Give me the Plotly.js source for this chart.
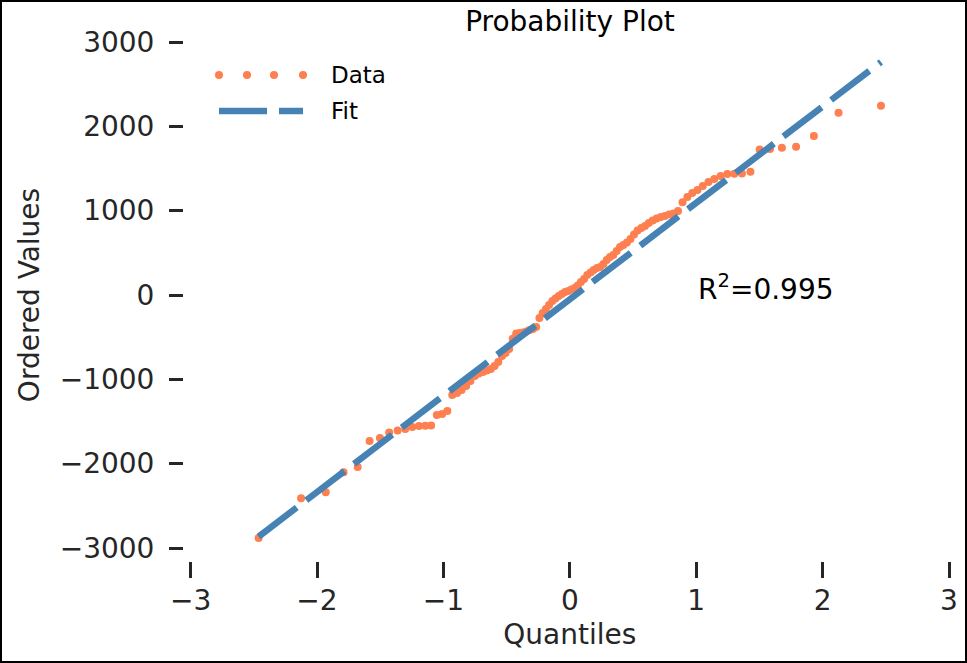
<!DOCTYPE html>
<html>
<head>
<meta charset="utf-8">
<script src="https://cdn.plot.ly/plotly-3.0.1.min.js"></script>
<style>
  html, body { margin: 0; padding: 0; background: #fff; }
  #chart { position: absolute; left: 0; top: 0; width: 967px; height: 663px; }
  #frame { position: absolute; left: 0; top: 0; width: 967px; height: 663px;
           box-sizing: border-box; border: 2px solid #000; pointer-events: none; }
</style>
</head>
<body>
<div id="chart"></div>
<div id="frame"></div>
<script>
// Theoretical quantiles (x) for the 100 ordered samples
const quantiles = [
  -2.462, -2.126, -1.931, -1.790, -1.678, -1.584, -1.502, -1.429, -1.362, -1.302,
  -1.246, -1.193, -1.143, -1.097, -1.052, -1.010, -0.969, -0.930, -0.892, -0.856,
  -0.820, -0.786, -0.752, -0.720, -0.687, -0.656, -0.625, -0.595, -0.566, -0.536,
  -0.508, -0.480, -0.452, -0.424, -0.397, -0.371, -0.344, -0.318, -0.292, -0.266,
  -0.240, -0.215, -0.189, -0.164, -0.138, -0.113, -0.088, -0.063, -0.038, -0.012,
  0.012, 0.038, 0.063, 0.088, 0.113, 0.138, 0.164, 0.189, 0.215, 0.240,
  0.266, 0.292, 0.318, 0.344, 0.371, 0.397, 0.424, 0.452, 0.480, 0.508,
  0.536, 0.566, 0.595, 0.625, 0.656, 0.687, 0.720, 0.752, 0.786, 0.820,
  0.856, 0.892, 0.930, 0.969, 1.010, 1.052, 1.097, 1.143, 1.193, 1.246,
  1.302, 1.362, 1.429, 1.502, 1.584, 1.678, 1.790, 1.931, 2.126, 2.462
];

// Ordered sample values (y)
const orderedValues = [
  -2880, -2411, -2340, -2102, -2040, -1731, -1696, -1630, -1607, -1589,
  -1565, -1553, -1550, -1547, -1423, -1411, -1375, -1186, -1162, -1127,
  -1079, -1020, -960, -931, -913, -895, -877, -842, -794, -723,
  -688, -640, -520, -457, -451, -445, -433, -415, -403, -379,
  -273, -213, -166, -119, -71, -42, -12, 12, 36, 47,
  65, 83, 113, 154, 190, 237, 267, 296, 320, 332,
  368, 415, 451, 474, 522, 569, 593, 623, 664, 717,
  765, 794, 818, 854, 883, 907, 925, 937, 955, 966,
  996, 1100, 1162, 1210, 1245, 1293, 1340, 1376, 1411, 1435,
  1438, 1441, 1462, 1725, 1730, 1745, 1758, 1885, 2162, 2245
];

// Least-squares fit shown in the chart
const fitSlope = 1143;
const fitIntercept = -51;
const rSquared = 0.995;

const xTickVals = [-3, -2, -1, 0, 1, 2, 3];
const xTickText = ['\u22123', '\u22122', '\u22121', '0', '1', '2', '3'];
const yTickVals = [-3000, -2000, -1000, 0, 1000, 2000, 3000];
const yTickText = ['\u22123000', '\u22122000', '\u22121000', '0', '1000', '2000', '3000'];

const dataColor = '#fe7f4f';
const fitColor = '#4682b4';
const textGrey = '#262626';
const font = 'DejaVu Sans, Liberation Sans, sans-serif';

// plot area in pixels (the axes are drawn slightly offset from the data area)
const margin = { l: 183, r: 18, t: 42, b: 102 };
const plotW = 967 - margin.l - margin.r;
const plotH = 663 - margin.t - margin.b;
const px = (x) => (x - margin.l) / plotW;
const py = (y) => (663 - margin.b - y) / plotH;

const fitX = [quantiles[0], quantiles[quantiles.length - 1]];
const fitY = fitX.map(x => fitSlope * x + fitIntercept);

const traces = [
    {
        type: 'scatter',
        mode: 'markers',
        x: quantiles,
        y: orderedValues,
        marker: { size: 8, color: dataColor },
        name: 'Data',
        cliponaxis: false
    },
    {
        type: 'scatter',
        mode: 'lines',
        x: fitX,
        y: fitY,
        line: { color: fitColor, width: 6.5, dash: '48px,12px' },
        name: 'Fit'
    }
];

// hand-drawn legend so the handles look like the matplotlib ones
const legendDots = [219, 247, 274, 303];
const shapes = legendDots.map(x => ({
    type: 'circle', xref: 'paper', yref: 'paper',
    x0: px(x - 4), x1: px(x + 4), y0: py(75 + 4), y1: py(75 - 4),
    fillcolor: dataColor, line: { width: 0 }
}));
shapes.push({
    type: 'line', xref: 'paper', yref: 'paper',
    x0: px(219), x1: px(303), y0: py(111), y1: py(111),
    line: { color: fitColor, width: 6.5, dash: '48px,12px' }
});

const annotations = [
    { text: 'Data', xref: 'paper', yref: 'paper', x: px(329), y: py(75),
      xanchor: 'left', yanchor: 'middle', showarrow: false,
      font: { family: font, size: 23, color: '#000' } },
    { text: 'Fit', xref: 'paper', yref: 'paper', x: px(329), y: py(111),
      xanchor: 'left', yanchor: 'middle', showarrow: false,
      font: { family: font, size: 23, color: '#000' } },
    { text: 'R<sup>2</sup>=' + rSquared, x: 1.0, y: 0, xref: 'x', yref: 'y',
      xanchor: 'left', yanchor: 'middle', yshift: 8, showarrow: false,
      font: { family: font, size: 28, color: '#000' } }
];

const layout = {
    width: 967,
    height: 663,
    margin: margin,
    paper_bgcolor: '#fff',
    plot_bgcolor: '#fff',
    showlegend: false,
    font: { family: font, color: textGrey, size: 28 },
    title: {
        text: 'Probability Plot',
        xref: 'paper', x: px(570), xanchor: 'center',
        yref: 'container', y: 1 - 21 / 663, yanchor: 'middle',
        font: { family: font, size: 28, color: '#000' }
    },
    xaxis: {
        range: [-3, 3],
        domain: [px(190.6), 1],
        anchor: 'free', position: 0,
        showgrid: false, zeroline: false, showline: false,
        ticks: 'outside', ticklen: 16, tickwidth: 3, tickcolor: textGrey,
        tickvals: xTickVals, ticktext: xTickText,
        ticklabelstandoff: -2,
        tickfont: { family: font, size: 28, color: textGrey },
        title: { text: 'Quantiles', standoff: 8, font: { family: font, size: 28, color: textGrey } }
    },
    yaxis: {
        range: [-3000, 3000],
        domain: [py(548), 1],
        anchor: 'free', position: 0,
        showgrid: false, zeroline: false, showline: false,
        ticks: 'outside', ticklen: 14, tickwidth: 3, tickcolor: textGrey,
        tickvals: yTickVals, ticktext: yTickText,
        ticklabelstandoff: 9,
        tickfont: { family: font, size: 28, color: textGrey },
        title: { text: 'Ordered Values', standoff: 10, font: { family: font, size: 28, color: textGrey } }
    },
    shapes: shapes,
    annotations: annotations
};

Plotly.newPlot('chart', traces, layout, { staticPlot: true });
</script>
</body>
</html>
